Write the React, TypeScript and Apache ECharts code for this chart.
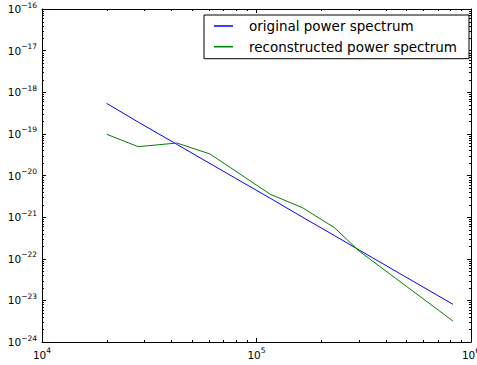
import React, { useEffect, useRef } from "react";
import * as echarts from "echarts";

// wavenumber k (x) positions
const kValues = [2.0e4, 2.81e4, 4.25e4, 6.07e4, 1.16e5, 1.64e5, 2.31e5, 3.01e5, 8.24e5];
const originalSpectrum = [5.42e-19, 1.92e-19, 5.61e-20, 1.94e-20, 2.83e-21, 9.95e-22, 3.6e-22, 1.62e-22, 8.05e-24];
const reconstructedSpectrum = [9.8e-20, 4.92e-20, 6.04e-20, 3.29e-20, 3.53e-21, 1.68e-21, 5.57e-22, 1.53e-22, 3.19e-24];

const seriesNames = ["original power spectrum", "reconstructed power spectrum"];
const xRange = [1e4, 1e6];
const yRange = [1e-24, 1e-16];
const minorMultipliers = [2, 3, 4, 5, 6, 7, 8, 9];
const xDecades = [1e4, 1e5];
const yDecades = [1e-24, 1e-23, 1e-22, 1e-21, 1e-20, 1e-19, 1e-18, 1e-17];

const FONT = "DejaVu Sans";

function expLabel(v: number) {
  const e = Math.round(Math.log10(v));
  if (!isFinite(e)) return "";
  const s = e < 0 ? "\u2212" + -e : String(e);
  return `{b|10}{s|${s}}`;
}

// superscript: bottom padding raises the exponent above the base "10"
const rich = {
  b: { fontFamily: FONT, fontSize: 10.5, color: "#000", verticalAlign: "middle" },
  s: { fontFamily: FONT, fontSize: 7.5, color: "#000", verticalAlign: "middle", padding: [0, 0, 8, 0] },
};

export default function App() {
  const ref = useRef<HTMLDivElement>(null);
  useEffect(() => {
    document.body.style.margin = "0";
    const chart = echarts.init(ref.current!, null, { renderer: "svg" });

    const xMinor: number[][] = [];
    xDecades.forEach((d) => minorMultipliers.forEach((m) => xMinor.push([d * m, 1e-20])));
    const yMinor: number[][] = [];
    yDecades.forEach((d) => minorMultipliers.forEach((m) => yMinor.push([1e5, d * m])));

    const axisLine = { show: true, onZero: false, lineStyle: { color: "#000", width: 1 } };
    const tick = { show: true, inside: true, length: 4, lineStyle: { color: "#000", width: 1 } };

    chart.setOption({
      animation: false,
      backgroundColor: "#fff",
      grid: { left: 42, right: 6, top: 9, bottom: 23, containLabel: false, outerBoundsMode: "none" },
      legend: {
        show: true,
        left: 204,
        top: 15,
        orient: "vertical",
        backgroundColor: "#fff",
        borderColor: "#000",
        borderWidth: 1,
        borderRadius: 0,
        padding: [3, 12, 4, 10],
        itemGap: 4.7,
        itemWidth: 19,
        itemHeight: 1.5,
        icon: "rect",
        textStyle: { fontFamily: FONT, fontSize: 13.5, color: "#000", lineHeight: 16, padding: [0, 0, 0, 11] },
        data: seriesNames,
      },
      xAxis: [
        {
          type: "log",
          logBase: 10,
          min: xRange[0],
          max: xRange[1],
          position: "bottom",
          axisLine,
          axisTick: tick,
          splitLine: { show: false },
          axisLabel: { show: true, margin: 4.5, formatter: expLabel, rich, showMinLabel: true, showMaxLabel: true, hideOverlap: false },
        },
        {
          type: "log",
          logBase: 10,
          min: xRange[0],
          max: xRange[1],
          position: "top",
          axisLine,
          axisTick: tick,
          splitLine: { show: false },
          axisLabel: { show: false },
        },
      ],
      yAxis: [
        {
          // min (1e-24) is reached by the log axis' own nice rounding of the data extent
          type: "log",
          logBase: 10,
          max: yRange[1],
          position: "left",
          axisLine,
          axisTick: tick,
          splitLine: { show: false },
          axisLabel: { show: true, margin: 5, formatter: expLabel, rich, showMinLabel: true, showMaxLabel: true, hideOverlap: false },
        },
        {
          type: "log",
          logBase: 10,
          min: yRange[0],
          max: yRange[1],
          position: "right",
          axisLine,
          axisTick: tick,
          splitLine: { show: false },
          axisLabel: { show: false },
        },
      ],
      series: [
        {
          name: seriesNames[0],
          type: "line",
          xAxisIndex: 0,
          yAxisIndex: 0,
          data: kValues.map((k, i) => [k, originalSpectrum[i]]),
          showSymbol: false,
          symbol: "none",
          color: "#0000ff",
          lineStyle: { color: "#0000ff", width: 1 },
          z: 3,
        },
        {
          name: seriesNames[1],
          type: "line",
          xAxisIndex: 0,
          yAxisIndex: 0,
          data: kValues.map((k, i) => [k, reconstructedSpectrum[i]]),
          showSymbol: false,
          symbol: "none",
          color: "#008000",
          lineStyle: { color: "#008000", width: 1 },
          z: 3,
        },
        {
          name: "xMinorTicks",
          type: "custom",
          silent: true,
          xAxisIndex: 0,
          yAxisIndex: 0,
          data: xMinor,
          renderItem: (params: any, api: any) => {
            const p = api.coord([api.value(0), api.value(1)]);
            const cs = params.coordSys;
            const x = Math.round(p[0]) + 0.5;
            const b = cs.y + cs.height;
            return {
              type: "group",
              children: [
                { type: "line", shape: { x1: x, y1: b, x2: x, y2: b - 2 }, style: { stroke: "#000", lineWidth: 1 } },
                { type: "line", shape: { x1: x, y1: cs.y, x2: x, y2: cs.y + 2 }, style: { stroke: "#000", lineWidth: 1 } },
              ],
            };
          },
        },
        {
          name: "yMinorTicks",
          type: "custom",
          silent: true,
          xAxisIndex: 0,
          yAxisIndex: 0,
          data: yMinor,
          renderItem: (params: any, api: any) => {
            const p = api.coord([api.value(0), api.value(1)]);
            const cs = params.coordSys;
            const y = Math.round(p[1]) + 0.5;
            const r = cs.x + cs.width;
            return {
              type: "group",
              children: [
                { type: "line", shape: { x1: cs.x, y1: y, x2: cs.x + 2, y2: y }, style: { stroke: "#000", lineWidth: 1 } },
                { type: "line", shape: { x1: r, y1: y, x2: r - 2, y2: y }, style: { stroke: "#000", lineWidth: 1 } },
              ],
            };
          },
        },
      ],
    });
    return () => chart.dispose();
  }, []);
  return <div ref={ref} style={{ width: 477, height: 365 }} />;
}
